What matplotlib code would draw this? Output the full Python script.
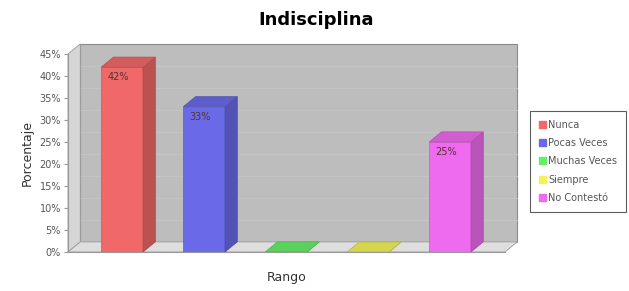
import matplotlib
matplotlib.use("Agg")
import matplotlib.pyplot as plt
from matplotlib.patches import Polygon, Patch

categorias = ["Nunca", "Pocas Veces", "Muchas Veces", "Siempre", "No Contestó"]
valores = [42, 33, 0, 0, 25]
etiquetas = ["42%", "33%", "", "", "25%"]
colores = ["#f06868", "#6a6ae8", "#66ee66", "#f2f25a", "#ee6aee"]
ticks_y = [0, 5, 10, 15, 20, 25, 30, 35, 40, 45]

def oscurecer(c, f):
    r, g, b = matplotlib.colors.to_rgb(c)
    return (r * f, g * f, b * f)

fig = plt.figure(figsize=(6.29, 2.91), dpi=100)
ax = fig.add_axes([68 / 629, 39 / 291, 437 / 629, 198 / 291])
x0, x1 = -0.66, 4.67
ax.set_xlim(x0, x1)
ax.set_ylim(0, 45)
ax.set_facecolor("white")

dx = 0.15   # profundidad en unidades x
dy = 2.3    # profundidad en unidades y

# pared del fondo
ax.add_patch(Polygon([(x0 + dx, dy), (x1 + dx, dy), (x1 + dx, 45 + dy), (x0 + dx, 45 + dy)],
                     closed=True, fc="#bdbdbd", ec="#8a8a8a", lw=0.8, clip_on=False, zorder=0))
for t in ticks_y[1:-1]:
    ax.plot([x0 + dx, x1 + dx], [t + dy, t + dy], color="#c4c4c4", lw=0.7, clip_on=False, zorder=0.5)
# pared izquierda
ax.add_patch(Polygon([(x0, 0), (x0 + dx, dy), (x0 + dx, 45 + dy), (x0, 45)],
                     closed=True, fc="#d6d6d6", ec="#9a9a9a", lw=0.6, clip_on=False, zorder=0.6))
# piso
ax.add_patch(Polygon([(x0, 0), (x1, 0), (x1 + dx, dy), (x0 + dx, dy)],
                     closed=True, fc="#dedede", ec="#9a9a9a", lw=0.6, clip_on=False, zorder=0.6))

ancho = 0.51
for i, (v, c, e) in enumerate(zip(valores, colores, etiquetas)):
    l = i - ancho / 2
    r = i + ancho / 2
    ax.bar(i, v, width=ancho, color=c, edgecolor=oscurecer(c, 0.85), lw=0.5, zorder=2)
    ax.add_patch(Polygon([(r, 0), (r + dx, dy), (r + dx, v + dy), (r, v)],
                         closed=True, fc=oscurecer(c, 0.78), ec=oscurecer(c, 0.7), lw=0.5, zorder=2))
    ax.add_patch(Polygon([(l, v), (r, v), (r + dx, v + dy), (l + dx, v + dy)],
                         closed=True, fc=oscurecer(c, 0.88), ec=oscurecer(c, 0.75), lw=0.5, zorder=2))
    if e:
        ax.text(i - 0.05, v - 1.2, e, ha="center", va="top", fontsize=7,
                color="#553333", zorder=3)

ax.set_yticks(ticks_y)
ax.set_yticklabels([f"{t}%" for t in ticks_y], fontsize=7, color="#555555")
ax.tick_params(axis="y", length=3, color="#999999", pad=2)
ax.set_xticks([])
for s in ["top", "right"]:
    ax.spines[s].set_visible(False)
ax.spines["left"].set_color("#999999")
ax.spines["bottom"].set_color("#999999")

ax.set_ylabel("Porcentaje", fontsize=9, color="#333333", labelpad=4)
ax.set_xlabel("Rango", fontsize=9, color="#333333", labelpad=14)
fig.text(316 / 629, 1 - 20 / 291, "Indisciplina", ha="center", va="center",
         fontsize=13, fontweight="bold")

handles = [Patch(fc=c, ec=c) for c in colores]
leg = fig.legend(handles, categorias, loc="upper left", bbox_to_anchor=(530 / 629, 1 - 111 / 291),
                 fontsize=7, frameon=True, fancybox=False, handlelength=0.7, handleheight=0.7,
                 handletextpad=0.3, borderpad=0.9, labelspacing=0.85, borderaxespad=0)
leg.get_frame().set_edgecolor("#333333")
leg.get_frame().set_linewidth(0.8)
for t in leg.get_texts():
    t.set_color("#555555")

fig.savefig("out.png", dpi=100)
